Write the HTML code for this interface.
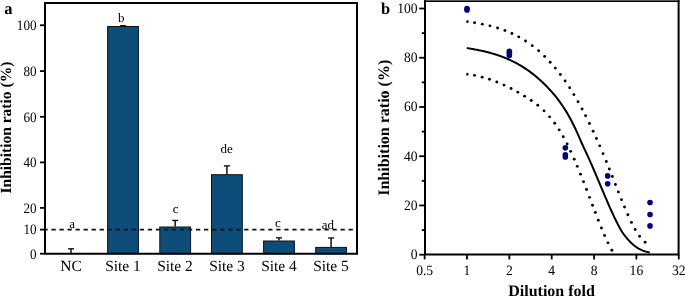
<!DOCTYPE html><html><head><meta charset="utf-8"><style>html,body{margin:0;padding:0;background:#fff;width:685px;height:296px;overflow:hidden}svg{display:block;text-rendering:geometricPrecision}</style></head><body>
<svg width="685" height="296" viewBox="0 0 685 296" font-family="Liberation Serif, Times New Roman, serif">
<rect width="685" height="296" fill="#fff"/>
<text x="4.3" y="14.3" font-size="16.5" font-weight="bold">a</text>
<rect x="107.60" y="26.50" width="30.80" height="227.20" fill="#0c4d7a" stroke="#111" stroke-width="1"/>
<rect x="159.80" y="227.00" width="30.80" height="26.70" fill="#0c4d7a" stroke="#111" stroke-width="1"/>
<rect x="211.50" y="174.70" width="30.80" height="79.00" fill="#0c4d7a" stroke="#111" stroke-width="1"/>
<rect x="263.60" y="241.00" width="30.80" height="12.70" fill="#0c4d7a" stroke="#111" stroke-width="1"/>
<rect x="315.70" y="247.40" width="30.80" height="6.30" fill="#0c4d7a" stroke="#111" stroke-width="1"/>
<line x1="71" y1="248.8" x2="71" y2="253.7" stroke="#1a1a1a" stroke-width="1.55"/>
<line x1="68" y1="248.8" x2="74" y2="248.8" stroke="#111" stroke-width="1.4"/>
<line x1="120" y1="25.75" x2="126" y2="25.75" stroke="#111" stroke-width="1.4"/>
<line x1="175.2" y1="220.45" x2="175.2" y2="226.5" stroke="#1a1a1a" stroke-width="1.55"/>
<line x1="172.2" y1="220.45" x2="178.2" y2="220.45" stroke="#111" stroke-width="1.4"/>
<line x1="226.9" y1="165.9" x2="226.9" y2="174.2" stroke="#1a1a1a" stroke-width="1.55"/>
<line x1="223.9" y1="165.9" x2="229.9" y2="165.9" stroke="#111" stroke-width="1.4"/>
<line x1="279" y1="237.85" x2="279" y2="240.5" stroke="#1a1a1a" stroke-width="1.55"/>
<line x1="276" y1="237.85" x2="282" y2="237.85" stroke="#111" stroke-width="1.4"/>
<line x1="331.1" y1="238" x2="331.1" y2="246.9" stroke="#1a1a1a" stroke-width="1.55"/>
<line x1="328.1" y1="238" x2="334.1" y2="238" stroke="#111" stroke-width="1.4"/>
<line x1="43.4" y1="229.6" x2="356" y2="229.6" stroke="#111" stroke-width="1.6" stroke-dasharray="4.3 3.73"/>
<path d="M45,3 H357 V253.7 H45 Z" fill="none" stroke="#000" stroke-width="2"/>
<line x1="40" y1="253.7" x2="45" y2="253.7" stroke="#000" stroke-width="1.8"/>
<text transform="translate(36.6,258.50) scale(0.92,1)" font-size="14.3" text-anchor="end">0</text>
<line x1="40" y1="229.6" x2="45" y2="229.6" stroke="#000" stroke-width="1.8"/>
<text transform="translate(36.6,234.40) scale(0.92,1)" font-size="14.3" text-anchor="end">10</text>
<line x1="40" y1="207.9" x2="45" y2="207.9" stroke="#000" stroke-width="1.8"/>
<text transform="translate(36.6,212.70) scale(0.92,1)" font-size="14.3" text-anchor="end">20</text>
<line x1="40" y1="162.4" x2="45" y2="162.4" stroke="#000" stroke-width="1.8"/>
<text transform="translate(36.6,167.20) scale(0.92,1)" font-size="14.3" text-anchor="end">40</text>
<line x1="40" y1="116.8" x2="45" y2="116.8" stroke="#000" stroke-width="1.8"/>
<text transform="translate(36.6,121.60) scale(0.92,1)" font-size="14.3" text-anchor="end">60</text>
<line x1="40" y1="71.1" x2="45" y2="71.1" stroke="#000" stroke-width="1.8"/>
<text transform="translate(36.6,75.90) scale(0.92,1)" font-size="14.3" text-anchor="end">80</text>
<line x1="40" y1="25.25" x2="45" y2="25.25" stroke="#000" stroke-width="1.8"/>
<text transform="translate(36.6,30.05) scale(0.92,1)" font-size="14.3" text-anchor="end">100</text>
<text x="72.1" y="228.2" font-size="13" text-anchor="middle">a</text>
<text x="121.3" y="22.1" font-size="13" text-anchor="middle">b</text>
<text x="175.7" y="213.2" font-size="13" text-anchor="middle">c</text>
<text x="226.6" y="153.2" font-size="13" text-anchor="middle">de</text>
<text x="278" y="227.2" font-size="13" text-anchor="middle">c</text>
<text x="327.9" y="229.1" font-size="13" text-anchor="middle">ad</text>
<text x="71" y="270.9" font-size="15.5" text-anchor="middle">NC</text>
<text x="123" y="270.9" font-size="15.5" text-anchor="middle">Site 1</text>
<text x="175" y="270.9" font-size="15.5" text-anchor="middle">Site 2</text>
<text x="227" y="270.9" font-size="15.5" text-anchor="middle">Site 3</text>
<text x="279" y="270.9" font-size="15.5" text-anchor="middle">Site 4</text>
<text x="331" y="270.9" font-size="15.5" text-anchor="middle">Site 5</text>
<text transform="translate(10.9,127.6) rotate(-90)" font-size="15.5" font-weight="bold" text-anchor="middle">Inhibition ratio (%)</text>
<text x="381" y="14.4" font-size="16.5" font-weight="bold">b</text>
<rect x="424" y="0.35" width="255.6" height="1.65" fill="#000"/>
<path d="M425,0.35 V254.6 H678.6 V0.35" fill="none" stroke="#000" stroke-width="2"/>
<clipPath id="cb"><rect x="425" y="0" width="254" height="253.6"/></clipPath>
<line x1="419.2" y1="254.70" x2="425" y2="254.70" stroke="#000" stroke-width="1.8"/>
<text transform="translate(417.6,259.20) scale(0.95,1)" font-size="14.3" text-anchor="end">0</text>
<line x1="421.8" y1="230.08" x2="425" y2="230.08" stroke="#000" stroke-width="1.8"/>
<line x1="419.2" y1="205.46" x2="425" y2="205.46" stroke="#000" stroke-width="1.8"/>
<text transform="translate(417.6,209.96) scale(0.95,1)" font-size="14.3" text-anchor="end">20</text>
<line x1="421.8" y1="180.84" x2="425" y2="180.84" stroke="#000" stroke-width="1.8"/>
<line x1="419.2" y1="156.22" x2="425" y2="156.22" stroke="#000" stroke-width="1.8"/>
<text transform="translate(417.6,160.72) scale(0.95,1)" font-size="14.3" text-anchor="end">40</text>
<line x1="421.8" y1="131.60" x2="425" y2="131.60" stroke="#000" stroke-width="1.8"/>
<line x1="419.2" y1="106.98" x2="425" y2="106.98" stroke="#000" stroke-width="1.8"/>
<text transform="translate(417.6,111.48) scale(0.95,1)" font-size="14.3" text-anchor="end">60</text>
<line x1="421.8" y1="82.36" x2="425" y2="82.36" stroke="#000" stroke-width="1.8"/>
<line x1="419.2" y1="57.74" x2="425" y2="57.74" stroke="#000" stroke-width="1.8"/>
<text transform="translate(417.6,62.24) scale(0.95,1)" font-size="14.3" text-anchor="end">80</text>
<line x1="421.8" y1="33.12" x2="425" y2="33.12" stroke="#000" stroke-width="1.8"/>
<line x1="419.2" y1="8.50" x2="425" y2="8.50" stroke="#000" stroke-width="1.8"/>
<text transform="translate(417.6,13.00) scale(0.95,1)" font-size="14.3" text-anchor="end">100</text>
<line x1="424.65" y1="254.6" x2="424.65" y2="259.4" stroke="#000" stroke-width="1.8"/>
<text transform="translate(424.65,275.2) scale(0.95,1)" font-size="14.3" text-anchor="middle">0.5</text>
<line x1="467.00" y1="254.6" x2="467.00" y2="259.4" stroke="#000" stroke-width="1.8"/>
<text transform="translate(467.00,275.2) scale(0.95,1)" font-size="14.3" text-anchor="middle">1</text>
<line x1="509.35" y1="254.6" x2="509.35" y2="259.4" stroke="#000" stroke-width="1.8"/>
<text transform="translate(509.35,275.2) scale(0.95,1)" font-size="14.3" text-anchor="middle">2</text>
<line x1="551.70" y1="254.6" x2="551.70" y2="259.4" stroke="#000" stroke-width="1.8"/>
<text transform="translate(551.70,275.2) scale(0.95,1)" font-size="14.3" text-anchor="middle">4</text>
<line x1="594.05" y1="254.6" x2="594.05" y2="259.4" stroke="#000" stroke-width="1.8"/>
<text transform="translate(594.05,275.2) scale(0.95,1)" font-size="14.3" text-anchor="middle">8</text>
<line x1="636.40" y1="254.6" x2="636.40" y2="259.4" stroke="#000" stroke-width="1.8"/>
<text transform="translate(636.40,275.2) scale(0.95,1)" font-size="14.3" text-anchor="middle">16</text>
<line x1="678.75" y1="254.6" x2="678.75" y2="259.4" stroke="#000" stroke-width="1.8"/>
<text transform="translate(678.75,275.2) scale(0.95,1)" font-size="14.3" text-anchor="middle">32</text>
<path d="M466.8,48.04 L467.8,48.20 L468.8,48.37 L469.8,48.54 L470.8,48.71 L471.8,48.88 L472.8,49.06 L473.8,49.24 L474.8,49.43 L475.8,49.62 L476.8,49.81 L477.8,50.01 L478.8,50.21 L479.8,50.42 L480.8,50.63 L481.8,50.85 L482.8,51.07 L483.8,51.30 L484.8,51.53 L485.8,51.77 L486.8,52.02 L487.8,52.27 L488.8,52.53 L489.8,52.80 L490.8,53.07 L491.8,53.35 L492.8,53.64 L493.8,53.93 L494.8,54.24 L495.8,54.55 L496.8,54.87 L497.8,55.20 L498.8,55.54 L499.8,55.89 L500.8,56.24 L501.8,56.61 L502.8,56.99 L503.8,57.37 L504.8,57.77 L505.8,58.18 L506.8,58.59 L507.8,59.02 L508.8,59.46 L509.8,59.91 L510.8,60.38 L511.8,60.85 L512.8,61.34 L513.8,61.83 L514.8,62.34 L515.8,62.87 L516.8,63.40 L517.8,63.95 L518.8,64.51 L519.8,65.09 L520.8,65.68 L521.8,66.28 L522.8,66.90 L523.8,67.53 L524.8,68.18 L525.8,68.84 L526.8,69.52 L527.8,70.21 L528.8,70.91 L529.8,71.64 L530.8,72.38 L531.8,73.13 L532.8,73.90 L533.8,74.69 L534.8,75.49 L535.8,76.31 L536.8,77.15 L537.8,78.01 L538.8,78.88 L539.8,79.77 L540.8,80.68 L541.8,81.61 L542.8,82.55 L543.8,83.52 L544.8,84.50 L545.8,85.51 L546.8,86.53 L547.8,87.57 L548.8,88.63 L549.8,89.71 L550.8,90.81 L551.8,91.94 L552.8,93.09 L553.8,94.26 L554.8,95.46 L555.8,96.68 L556.8,97.94 L557.8,99.23 L558.8,100.55 L559.8,101.90 L560.8,103.30 L561.8,104.73 L562.8,106.20 L563.8,107.71 L564.8,109.26 L565.8,110.86 L566.8,112.51 L567.8,114.21 L568.8,115.95 L569.8,117.74 L570.8,119.59 L571.8,121.50 L572.8,123.46 L573.8,125.47 L574.8,127.55 L575.8,129.69 L576.8,131.89 L577.8,134.14 L578.8,136.43 L579.8,138.72 L580.8,141.00 L581.8,143.25 L582.8,145.45 L583.8,147.61 L584.8,149.74 L585.8,151.87 L586.8,154.01 L587.8,156.18 L588.8,158.38 L589.8,160.60 L590.8,162.86 L591.8,165.14 L592.8,167.45 L593.8,169.77 L594.8,172.11 L595.8,174.46 L596.8,176.82 L597.8,179.19 L598.8,181.57 L599.8,183.95 L600.8,186.33 L601.8,188.71 L602.8,191.08 L603.8,193.45 L604.8,195.80 L605.8,198.14 L606.8,200.47 L607.8,202.77 L608.8,205.06 L609.8,207.32 L610.8,209.55 L611.8,211.75 L612.8,213.92 L613.8,216.06 L614.8,218.16 L615.8,220.21 L616.8,222.23 L617.8,224.20 L618.8,226.11 L619.8,227.98 L620.8,229.79 L621.8,231.45 L622.8,232.98 L623.8,234.39 L624.8,235.72 L625.8,236.98 L626.8,238.18 L627.8,239.34 L628.8,240.44 L629.8,241.49 L630.8,242.49 L631.8,243.44 L632.8,244.33 L633.8,245.18 L634.8,245.98 L635.8,246.72 L636.8,247.42 L637.8,248.06 L638.8,248.66 L639.8,249.21 L640.8,249.72 L641.8,250.18 L642.8,250.60 L643.8,250.97 L644.8,251.30 L645.8,251.60 L646.8,251.85 L647.8,252.07 L648.8,252.25 L649.8,252.40" fill="none" stroke="#000" stroke-width="2"/>
<clipPath id="cd"><rect x="466.3" y="0" width="213" height="253.6"/></clipPath>
<g fill="#000" clip-path="url(#cd)">
<circle cx="467.30" cy="21.61" r="1.45"/>
<circle cx="474.56" cy="22.72" r="1.45"/>
<circle cx="482.31" cy="24.13" r="1.45"/>
<circle cx="489.94" cy="25.83" r="1.45"/>
<circle cx="497.58" cy="27.96" r="1.45"/>
<circle cx="504.92" cy="30.49" r="1.45"/>
<circle cx="511.96" cy="33.46" r="1.45"/>
<circle cx="518.75" cy="36.89" r="1.45"/>
<circle cx="525.56" cy="40.97" r="1.45"/>
<circle cx="532.25" cy="45.67" r="1.45"/>
<circle cx="538.59" cy="50.82" r="1.45"/>
<circle cx="544.61" cy="56.39" r="1.45"/>
<circle cx="550.18" cy="62.18" r="1.45"/>
<circle cx="555.33" cy="68.11" r="1.45"/>
<circle cx="560.34" cy="74.45" r="1.45"/>
<circle cx="565.14" cy="81.07" r="1.45"/>
<circle cx="569.65" cy="87.80" r="1.45"/>
<circle cx="573.90" cy="94.61" r="1.45"/>
<circle cx="578.03" cy="101.68" r="1.45"/>
<circle cx="582.08" cy="109.07" r="1.45"/>
<circle cx="585.58" cy="115.80" r="1.45"/>
<circle cx="589.41" cy="123.49" r="1.45"/>
<circle cx="593.11" cy="131.24" r="1.45"/>
<circle cx="596.44" cy="138.48" r="1.45"/>
<circle cx="599.72" cy="145.87" r="1.45"/>
<circle cx="603.04" cy="153.63" r="1.45"/>
<circle cx="606.30" cy="161.49" r="1.45"/>
<circle cx="609.32" cy="168.93" r="1.45"/>
<circle cx="612.31" cy="176.47" r="1.45"/>
<circle cx="615.44" cy="184.43" r="1.45"/>
<circle cx="618.37" cy="191.90" r="1.45"/>
<circle cx="621.47" cy="199.66" r="1.45"/>
<circle cx="624.50" cy="207.03" r="1.45"/>
<circle cx="627.86" cy="214.78" r="1.45"/>
<circle cx="631.45" cy="222.42" r="1.45"/>
<circle cx="635.16" cy="229.44" r="1.45"/>
<circle cx="639.56" cy="236.31" r="1.45"/>
<circle cx="645.10" cy="242.27" r="1.45"/>
<circle cx="467.09" cy="74.18" r="1.45"/>
<circle cx="474.49" cy="75.36" r="1.45"/>
<circle cx="482.17" cy="77.14" r="1.45"/>
<circle cx="489.46" cy="79.32" r="1.45"/>
<circle cx="496.80" cy="82.00" r="1.45"/>
<circle cx="504.01" cy="85.08" r="1.45"/>
<circle cx="511.09" cy="88.51" r="1.45"/>
<circle cx="517.81" cy="92.14" r="1.45"/>
<circle cx="524.60" cy="96.13" r="1.45"/>
<circle cx="531.25" cy="100.43" r="1.45"/>
<circle cx="537.76" cy="105.28" r="1.45"/>
<circle cx="544.04" cy="110.86" r="1.45"/>
<circle cx="549.61" cy="116.83" r="1.45"/>
<circle cx="554.70" cy="123.28" r="1.45"/>
<circle cx="559.20" cy="129.91" r="1.45"/>
<circle cx="563.29" cy="136.80" r="1.45"/>
<circle cx="567.13" cy="144.04" r="1.45"/>
<circle cx="570.67" cy="151.35" r="1.45"/>
<circle cx="574.18" cy="159.13" r="1.45"/>
<circle cx="577.29" cy="166.37" r="1.45"/>
<circle cx="580.48" cy="174.13" r="1.45"/>
<circle cx="583.53" cy="181.77" r="1.45"/>
<circle cx="586.52" cy="189.45" r="1.45"/>
<circle cx="589.55" cy="197.34" r="1.45"/>
<circle cx="592.52" cy="205.18" r="1.45"/>
<circle cx="595.33" cy="212.55" r="1.45"/>
<circle cx="598.30" cy="220.22" r="1.45"/>
<circle cx="601.44" cy="228.06" r="1.45"/>
<circle cx="604.57" cy="235.43" r="1.45"/>
<circle cx="607.97" cy="242.86" r="1.45"/>
<circle cx="611.84" cy="250.26" r="1.45"/>
</g>
<circle cx="467.00" cy="8.50" r="2.8" fill="#00008b"/>
<circle cx="467.00" cy="9.98" r="2.8" fill="#00008b"/>
<circle cx="509.35" cy="51.22" r="2.8" fill="#00008b"/>
<circle cx="509.35" cy="53.36" r="2.8" fill="#00008b"/>
<circle cx="509.35" cy="55.52" r="2.8" fill="#00008b"/>
<circle cx="565.33" cy="147.85" r="2.8" fill="#00008b"/>
<circle cx="565.33" cy="154.74" r="2.8" fill="#00008b"/>
<circle cx="565.33" cy="156.96" r="2.8" fill="#00008b"/>
<circle cx="607.68" cy="175.92" r="2.8" fill="#00008b"/>
<circle cx="607.68" cy="183.79" r="2.8" fill="#00008b"/>
<circle cx="650.03" cy="202.51" r="2.8" fill="#00008b"/>
<circle cx="650.03" cy="214.57" r="2.8" fill="#00008b"/>
<circle cx="650.03" cy="225.89" r="2.8" fill="#00008b"/>
<text x="551.6" y="296.3" font-size="16" font-weight="bold" text-anchor="middle">Dilution fold</text>
<text transform="translate(388.7,127.75) rotate(-90)" font-size="16" font-weight="bold" text-anchor="middle">Inhibition ratio (%)</text>
</svg></body></html>
